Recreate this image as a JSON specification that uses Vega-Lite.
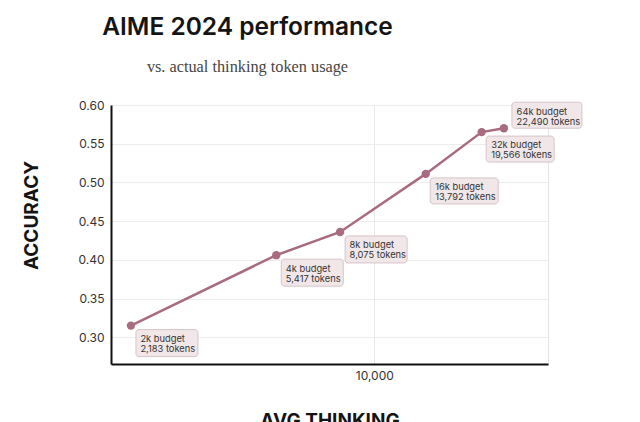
{
  "$schema": "https://vega.github.io/schema/vega-lite/v6.json",
  "width": 437,
  "height": 259,
  "autosize": {"type": "none"},
  "padding": {"left": 111, "top": 105, "right": 92, "bottom": 58},
  "background": "white",
  "config": {
    "view": {"stroke": "#e4e4e4", "strokeWidth": 1},
    "font": "Inter"
  },
  "title": {
    "text": "AIME 2024 performance",
    "subtitle": "vs. actual thinking token usage",
    "anchor": "middle",
    "dx": -82,
    "font": "Inter",
    "fontSize": 24.5,
    "fontWeight": 600,
    "color": "#141414",
    "subtitleFont": "Liberation Serif",
    "subtitleFontSize": 16.3,
    "subtitleColor": "#454545",
    "subtitlePadding": 18,
    "offset": 23
  },
  "data": {
    "values": [
      {"budget": "2k", "tokens": 2183, "accuracy": 0.315, "label": "2k budget\n2,183 tokens"},
      {"budget": "4k", "tokens": 5417, "accuracy": 0.406, "label": "4k budget\n5,417 tokens"},
      {"budget": "8k", "tokens": 8075, "accuracy": 0.436, "label": "8k budget\n8,075 tokens"},
      {"budget": "16k", "tokens": 13792, "accuracy": 0.511, "label": "16k budget\n13,792 tokens"},
      {"budget": "32k", "tokens": 19566, "accuracy": 0.565, "label": "32k budget\n19,566 tokens"},
      {"budget": "64k", "tokens": 22490, "accuracy": 0.570, "label": "64k budget\n22,490 tokens"}
    ]
  },
  "encoding": {
    "x": {
      "field": "tokens",
      "type": "quantitative",
      "scale": {"type": "log", "domain": [1927, 29630], "nice": false},
      "axis": {
        "values": [10000],
        "format": ",d",
        "title": "AVG THINKING",
        "titleFont": "Inter",
        "titleFontSize": 19,
        "titleFontWeight": 700,
        "titleColor": "#141414",
        "titlePadding": 30,
        "labelFont": "Inter",
        "labelFontSize": 12,
        "labelColor": "#333333",
        "labelPadding": 6,
        "ticks": false,
        "domainColor": "#111111",
        "domainWidth": 2,
        "grid": true,
        "gridColor": "#e8e8e8"
      }
    },
    "y": {
      "field": "accuracy",
      "type": "quantitative",
      "scale": {"domain": [0.2654, 0.6], "nice": false, "zero": false},
      "axis": {
        "values": [0.3, 0.35, 0.4, 0.45, 0.5, 0.55, 0.6],
        "format": ".2f",
        "title": "ACCURACY",
        "titleFont": "Inter",
        "titleFontSize": 19,
        "titleFontWeight": 700,
        "titleColor": "#141414",
        "titlePadding": 36,
        "titleY": 110,
        "labelFont": "Inter",
        "labelFontSize": 12,
        "labelColor": "#333333",
        "labelPadding": 7,
        "ticks": false,
        "domainColor": "#111111",
        "domainWidth": 2,
        "grid": true,
        "gridColor": "#ececec"
      }
    }
  },
  "layer": [
    {
      "mark": {"type": "line", "color": "#a96b80", "strokeWidth": 2.5}
    },
    {
      "mark": {"type": "circle", "size": 70, "color": "#a96b80", "opacity": 1}
    },
    {
      "transform": [{"filter": "datum.tokens < 10000"}],
      "mark": {"type": "rect", "fill": "#f1e7e8", "stroke": "#d6c5c8", "strokeWidth": 1, "cornerRadius": 3, "xOffset": 5, "x2Offset": 67, "yOffset": 4, "y2Offset": 31},
      "encoding": {"x2": {"field": "tokens"}, "y2": {"field": "accuracy"}}
    },
    {
      "transform": [{"filter": "datum.tokens >= 10000 && datum.tokens < 22000"}],
      "mark": {"type": "rect", "fill": "#f1e7e8", "stroke": "#d6c5c8", "strokeWidth": 1, "cornerRadius": 3, "xOffset": 4.5, "x2Offset": 72.5, "yOffset": 4, "y2Offset": 30},
      "encoding": {"x2": {"field": "tokens"}, "y2": {"field": "accuracy"}}
    },
    {
      "transform": [{"filter": "datum.tokens >= 22000"}],
      "mark": {"type": "rect", "fill": "#f1e7e8", "stroke": "#d6c5c8", "strokeWidth": 1, "cornerRadius": 3, "xOffset": 8, "x2Offset": 78, "yOffset": -26, "y2Offset": 0},
      "encoding": {"x2": {"field": "tokens"}, "y2": {"field": "accuracy"}}
    },
    {
      "transform": [{"filter": "datum.tokens < 22000"}],
      "mark": {"type": "text", "align": "left", "baseline": "alphabetic", "dx": 9.5, "dy": 16.4, "lineBreak": "\n", "lineHeight": 10, "font": "Inter", "fontSize": 9.3, "color": "#333333"},
      "encoding": {"text": {"field": "label"}}
    },
    {
      "transform": [{"filter": "datum.tokens >= 22000"}],
      "mark": {"type": "text", "align": "left", "baseline": "alphabetic", "dx": 12.7, "dy": -13.6, "lineBreak": "\n", "lineHeight": 10, "font": "Inter", "fontSize": 9.3, "color": "#333333"},
      "encoding": {"text": {"field": "label"}}
    }
  ]
}
